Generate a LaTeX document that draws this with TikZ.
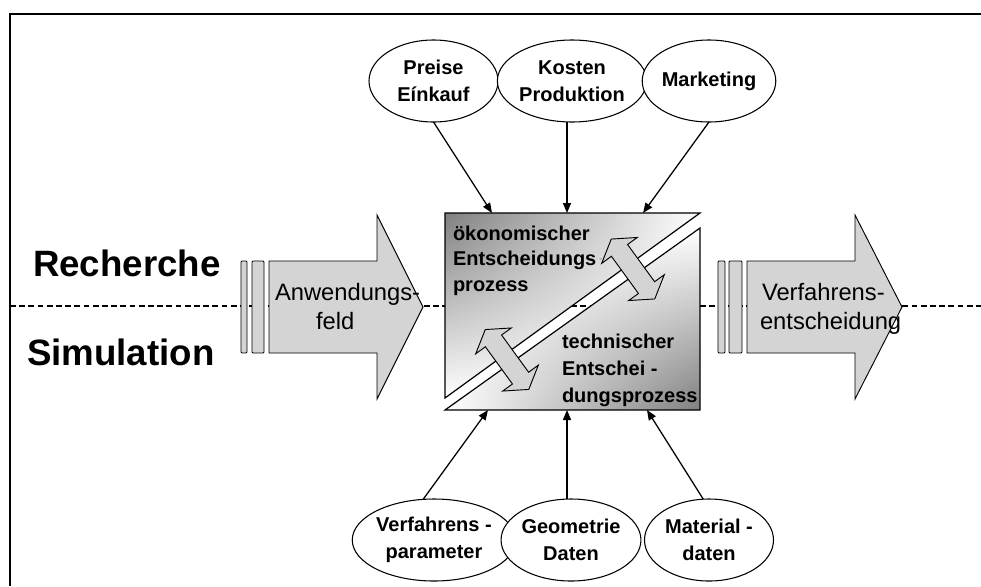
\documentclass[tikz,border=0pt]{standalone}
\usepackage{fontspec}
\setmainfont{Liberation Sans}
\usetikzlibrary{shapes.geometric,arrows.meta,shadings}
\begin{document}
\begin{tikzpicture}[x=0.75pt,y=-0.75pt,
  every node/.style={inner sep=0pt,outer sep=0pt},
  frameline/.style={line width=1.6pt},
  axisline/.style={line width=1.5pt,dash pattern=on 4.3pt off 2.6pt},
  blockfill/.style={fill=black!17,draw=black,line width=0.7pt,line join=miter},
  barfill/.style={fill=black!17,draw=black,line width=0.7pt,rounded corners=0.8pt},
  bubble/.style={ellipse,draw=black,line width=0.8pt,fill=white,
    minimum width=96.75pt,minimum height=61.5pt,align=center,
    font=\bfseries\fontsize{15}{20.25}\selectfont},
  boxtext/.style={anchor=base west,font=\bfseries\fontsize{15}{18}\selectfont},
  flowtext/.style={anchor=base west,font=\fontsize{17.8}{21}\selectfont},
  headline/.style={anchor=base west,font=\bfseries\fontsize{27.5}{33}\selectfont},
  feed/.style={line width=0.95pt,-{Triangle[length=7.5pt,width=6pt]}}]

\useasboundingbox (0,0) rectangle (981,586);

% outer frame (top and left edges)
\draw[frameline] (10,586) -- (10,14) -- (981,14);

% dividing line between research and simulation
\coordinate (axL) at (10,306);
\coordinate (axR) at (981,306);
\draw[axisline] (axL) -- (axR);

% input block arrow with its two bars
\draw[barfill] (241,261) rectangle (247,353);
\draw[barfill] (252,261) rectangle (264,353);
\draw[blockfill] (269,261) -- (377,261) -- (377,215) -- (423,307) -- (377,399)
  -- (377,353) -- (269,353) -- cycle;

% output block arrow with its two bars
\draw[barfill] (718,261) rectangle (725,353);
\draw[barfill] (729,261) rectangle (742,353);
\draw[blockfill] (747,261) -- (855,261) -- (855,215) -- (902,307) -- (855,399)
  -- (855,353) -- (747,353) -- cycle;

% decision box: two shaded triangles separated by a gap
\shade[upper left=black!50,upper right=white,lower left=white,lower right=white]
  (445,213) -- (700,213) -- (445,398) -- cycle;
\shade[upper left=white,upper right=white,lower left=white,lower right=black!50]
  (700,228) -- (700,410) -- (445,410) -- cycle;
\draw[line width=0.9pt] (445,213) -- (700,213) -- (445,398) -- cycle;
\draw[line width=0.9pt] (700,228) -- (700,410) -- (445,410) -- cycle;

% exchange arrows across the gap
\foreach \cx/\cy in {633/269, 507/359.5}{
  \begin{scope}[shift={(\cx,\cy)},rotate=-54]
    \draw[blockfill] (-37,0) -- (-23,22) -- (-23,10) -- (23,10) -- (23,22) -- (37,0)
      -- (23,-22) -- (23,-10) -- (-23,-10) -- (-23,-22) -- cycle;
  \end{scope}
}

% texts inside the box
\node[boxtext] (oek1) at (453,240) {ökonomischer};
\node[boxtext] (oek2) at (453,265.5) {Entscheidungs};
\node[anchor=base west,font=\bfseries\fontsize{9}{10}\selectfont,text=black!30] (oekdash) at (599,262) {-};
\node[boxtext] (oek3) at (453,291) {prozess};
\node[boxtext] (tec1) at (562,348) {technischer};
\node[boxtext] (tec2) at (562,375) {Entschei -};
\node[boxtext] (tec3) at (562,402) {dungsprozess};

% texts in the block arrows
\node[flowtext] (in1) at (275,300) {Anwendungs-};
\node[flowtext] (in2) at (316,329) {feld};
\node[flowtext] (out1) at (762,300) {Verfahrens-};
\node[flowtext] (out2) at (760,329) {entscheidung};

% side headlines
\node[headline] (rech) at (33,276) {Recherche};
\node[headline] (simu) at (27,365) {Simulation};

% economic inputs
\node[bubble] (e1) at (433.5,81) {Preise\\Eínkauf};
\node[bubble] (e2) at (572,81) {Kosten\\Produktion};
\node[bubble] (e3) at (709,81) {Marketing};

% technical inputs
\node[bubble] (e4) at (434,540) {Verfahrens -\\parameter};
\node[bubble] (e5) at (571,540) {Geometrie\\Daten};
\node[bubble] (e6) at (709,540) {Material -\\daten};

% connector end points on the box
\coordinate (t1) at (492,213);
\coordinate (t2) at (567,213);
\coordinate (t3) at (643,213);
\coordinate (b1) at (488,410);
\coordinate (b2) at (567,410);
\coordinate (b3) at (647,410);

\draw[feed] (e1.south) -- (t1);
\draw[feed] (e2.south -| t2) -- (t2);
\draw[feed] (e3.south) -- (t3);
\draw[feed] (e4.105) -- (b1);
\draw[feed] (e5.north -| b2) -- (b2);
\draw[feed] (e6.98) -- (b3);

\end{tikzpicture}
\end{document}
